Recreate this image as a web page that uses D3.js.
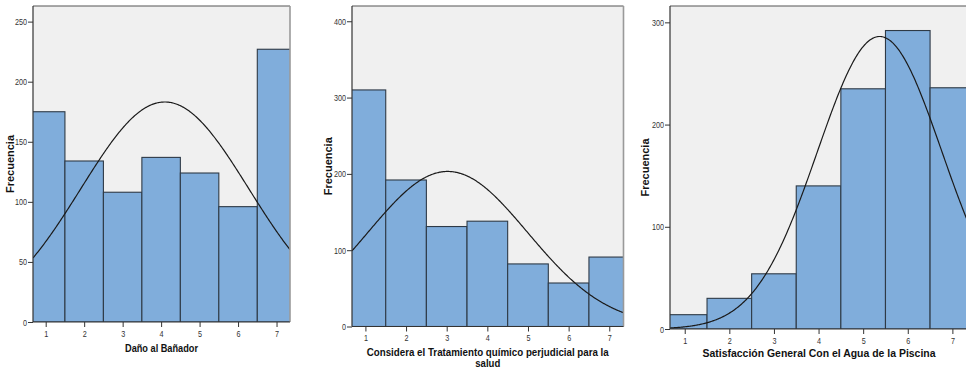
<!DOCTYPE html>
<html>
<head>
<meta charset="utf-8">
<script src="https://cdn.jsdelivr.net/npm/d3@7"></script>
<style>
  body { margin: 0; background: #fff; }
  svg { display: block; }
</style>
</head>
<body>
<svg id="drawing_region"></svg>
<script>
// valores
var categories = [1, 2, 3, 4, 5, 6, 7];
var danoValues = [175, 134, 108, 137, 124, 96, 227];
var tratamientoValues = [310, 192, 131, 138, 82, 57, 91];
var satisfaccionValues = [14, 30, 54, 140, 235, 292, 236];
var danoTicks = [0, 50, 100, 150, 200, 250];
var tratamientoTicks = [0, 100, 200, 300, 400];
var satisfaccionTicks = [0, 100, 200, 300];
var titles = [
    ['Daño al Bañador'],
    ['Considera el Tratamiento químico perjudicial para la', 'salud'],
    ['Satisfacción General Con el Agua de la Piscina']
];

var panels = [
    { values: danoValues, ticks: danoTicks, ymax: 263, left: 33, right: 290, top: 6, bottom: 322, title: titles[0], titleW: [73], titleY: 351.5, ylabX: 14 },
    { values: tratamientoValues, ticks: tratamientoTicks, ymax: 420, left: 352, right: 623.5, top: 6, bottom: 326.5, title: titles[1], titleW: [242, 25], titleY: 355.5, ylabX: 332 },
    { values: satisfaccionValues, ticks: satisfaccionTicks, ymax: 316, left: 670, right: 968, top: 6, bottom: 329, title: titles[2], titleW: [233], titleY: 356.5, ylabX: 649 }
];

var width = 966, height = 373;
var svg = d3.select('#drawing_region')
    .attr('width', width)
    .attr('height', height);

var fontFam = 'Arial, "Liberation Sans", sans-serif';

// comprime el texto horizontal como en la imagen original
function squeeze(sel, f) {
    sel.each(function() {
        var w = this.getComputedTextLength();
        this.setAttribute('textLength', w * f);
        this.setAttribute('lengthAdjust', 'spacingAndGlyphs');
    });
}

panels.forEach(function(p, i) {
    var xScale = d3.scaleLinear()
        .domain([0.67, 7.35])
        .range([p.left, p.right]);
    var yScale = d3.scaleLinear()
        .domain([0, p.ymax])
        .range([p.bottom, p.top]);

    var g = svg.append('g');

    g.append('clipPath')
        .attr('id', 'clip' + i)
        .append('rect')
        .attr('x', p.left)
        .attr('y', p.top)
        .attr('width', p.right - p.left)
        .attr('height', p.bottom - p.top);

    g.append('rect')
        .attr('x', p.left)
        .attr('y', p.top)
        .attr('width', p.right - p.left)
        .attr('height', p.bottom - p.top)
        .attr('fill', '#f0f0f0');

    var data = categories.map(function(c, j) { return { x: c, y: p.values[j] }; });

    g.append('g')
        .attr('clip-path', 'url(#clip' + i + ')')
        .selectAll('rect')
        .data(data)
        .enter()
        .append('rect')
        .attr('x', d => xScale(d.x - 0.5))
        .attr('y', d => yScale(d.y))
        .attr('width', d => xScale(d.x + 0.5) - xScale(d.x - 0.5))
        .attr('height', d => yScale(0) - yScale(d.y))
        .attr('fill', '#80addb')
        .attr('stroke', '#2e3a46')
        .attr('stroke-width', 1.1);

    // curva normal ajustada a los datos (media, desviacion y N de las barras)
    var n = d3.sum(data, d => d.y);
    var mean = d3.sum(data, d => d.x * d.y) / n;
    var sd = Math.sqrt(d3.sum(data, d => d.y * (d.x - mean) * (d.x - mean)) / n);
    var xs = d3.range(0.67, 7.36, 0.02);
    var line = d3.line()
        .x(d => xScale(d))
        .y(d => yScale(n / (sd * Math.sqrt(2 * Math.PI)) * Math.exp(-0.5 * Math.pow((d - mean) / sd, 2))));
    g.append('path')
        .attr('clip-path', 'url(#clip' + i + ')')
        .attr('d', line(xs))
        .attr('fill', 'none')
        .attr('stroke', '#1a1a1a')
        .attr('stroke-width', 1.2);

    // marco
    g.append('line')
        .attr('x1', p.left).attr('x2', p.right)
        .attr('y1', p.top).attr('y2', p.top)
        .attr('stroke', '#555').attr('stroke-width', 1.2);
    g.append('line')
        .attr('x1', p.right).attr('x2', p.right)
        .attr('y1', p.top).attr('y2', p.bottom)
        .attr('stroke', '#9a9a9a').attr('stroke-width', 1.6);

    var yAxis = g.append('g')
        .attr('transform', 'translate(' + p.left + ',0)')
        .call(d3.axisLeft(yScale).tickValues(p.ticks).tickSize(5).tickPadding(1).tickFormat(d3.format('d')));
    var xAxis = g.append('g')
        .attr('transform', 'translate(0,' + p.bottom + ')')
        .call(d3.axisBottom(xScale).tickValues(categories).tickSize(5).tickPadding(3).tickFormat(d3.format('d')));

    [yAxis, xAxis].forEach(function(ax) {
        ax.select('.domain').attr('stroke', '#333').attr('stroke-width', 1.2);
        ax.selectAll('.tick line').attr('stroke', '#333').attr('stroke-width', 1);
        ax.selectAll('.tick text')
            .attr('fill', '#333')
            .style('font-family', fontFam)
            .style('font-size', '9.5px');
    });
    xAxis.select('.domain').attr('d', 'M' + p.left + ',0H' + p.right);
    yAxis.select('.domain').attr('d', 'M0,' + p.top + 'V' + p.bottom);
    squeeze(yAxis.selectAll('.tick text'), 0.76);
    squeeze(xAxis.selectAll('.tick text'), 0.76);

    var cx = (p.left + p.right) / 2;
    p.title.forEach(function(t, k) {
        g.append('text')
            .attr('x', cx)
            .attr('y', p.titleY + k * 11)
            .attr('text-anchor', 'middle')
            .attr('textLength', p.titleW[k])
            .attr('lengthAdjust', 'spacingAndGlyphs')
            .style('font-family', fontFam)
            .style('font-weight', 'bold')
            .style('font-size', '11px')
            .attr('fill', '#111')
            .text(t);
    });

    g.append('text')
        .attr('transform', 'translate(' + p.ylabX + ',' + ((p.top + p.bottom) / 2) + ') rotate(-90)')
        .attr('text-anchor', 'middle')
        .style('font-family', fontFam)
        .style('font-weight', 'bold')
        .style('font-size', '11px')
        .attr('fill', '#111')
        .text('Frecuencia');
});
</script>
</body>
</html>
